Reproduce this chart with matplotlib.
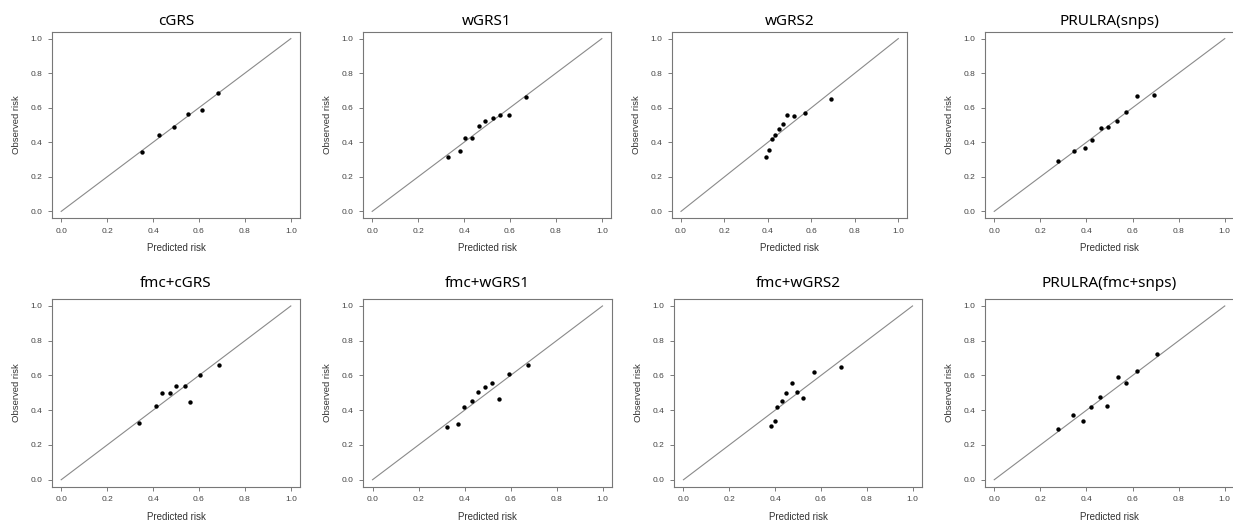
import numpy as np
import matplotlib
matplotlib.use("Agg")
import matplotlib.pyplot as plt

titles = ["cGRS", "wGRS1", "wGRS2", "PRULRA(snps)",
          "fmc+cGRS", "fmc+wGRS1", "fmc+wGRS2", "PRULRA(fmc+snps)"]

pred_cgrs = [0.352, 0.428, 0.491, 0.553, 0.614, 0.685]
obs_cgrs = [0.342, 0.445, 0.489, 0.565, 0.586, 0.683]

pred_wgrs1 = [0.332, 0.381, 0.406, 0.434, 0.463, 0.493, 0.524, 0.555, 0.597, 0.671]
obs_wgrs1 = [0.315, 0.352, 0.427, 0.427, 0.493, 0.524, 0.540, 0.559, 0.559, 0.660]

pred_wgrs2 = [0.393, 0.407, 0.419, 0.433, 0.450, 0.468, 0.488, 0.521, 0.570, 0.691]
obs_wgrs2 = [0.313, 0.354, 0.418, 0.441, 0.474, 0.507, 0.557, 0.553, 0.569, 0.648]

pred_prulra = [0.276, 0.345, 0.393, 0.423, 0.461, 0.494, 0.533, 0.571, 0.620, 0.695]
obs_prulra = [0.290, 0.350, 0.368, 0.412, 0.480, 0.491, 0.526, 0.573, 0.669, 0.675]

pred_fmc_cgrs = [0.337, 0.412, 0.438, 0.476, 0.501, 0.540, 0.563, 0.606, 0.686]
obs_fmc_cgrs = [0.325, 0.423, 0.500, 0.498, 0.540, 0.540, 0.446, 0.604, 0.663]

pred_fmc_wgrs1 = [0.323, 0.371, 0.398, 0.432, 0.459, 0.490, 0.520, 0.551, 0.593, 0.674]
obs_fmc_wgrs1 = [0.304, 0.321, 0.419, 0.452, 0.504, 0.535, 0.556, 0.462, 0.606, 0.658]

pred_fmc_wgrs2 = [0.383, 0.399, 0.410, 0.428, 0.448, 0.472, 0.496, 0.523, 0.569, 0.687]
obs_fmc_wgrs2 = [0.308, 0.337, 0.419, 0.452, 0.502, 0.554, 0.504, 0.473, 0.621, 0.646]

pred_fmc_prulra = [0.276, 0.340, 0.384, 0.419, 0.457, 0.491, 0.535, 0.572, 0.621, 0.707]
obs_fmc_prulra = [0.290, 0.375, 0.340, 0.417, 0.477, 0.427, 0.594, 0.554, 0.623, 0.721]

preds = [pred_cgrs, pred_wgrs1, pred_wgrs2, pred_prulra,
         pred_fmc_cgrs, pred_fmc_wgrs1, pred_fmc_wgrs2, pred_fmc_prulra]
obss = [obs_cgrs, obs_wgrs1, obs_wgrs2, obs_prulra,
        obs_fmc_cgrs, obs_fmc_wgrs1, obs_fmc_wgrs2, obs_fmc_prulra]

ticks = [0.0, 0.2, 0.4, 0.6, 0.8, 1.0]

W, H = 1233, 529
fig = plt.figure(figsize=(W / 100, H / 100), dpi=100)

# axes boxes in pixels: left, right, top, bottom
boxes = [(52, 300, 31.7, 218.3), (363, 611, 31.7, 218.3),
         (672.3, 907, 31.7, 218.3), (985, 1234, 31.7, 218.3),
         (52, 300, 299, 486.7), (363.3, 611.7, 299, 486.7),
         (674.3, 921.7, 299, 486.7), (985, 1234, 299, 486.7)]

for i in range(8):
    l, r, t, b = boxes[i]
    ax = fig.add_axes([l / W, 1 - b / H, (r - l) / W, (b - t) / H])
    ax.plot([0, 1], [0, 1], color="#8a8a8a", lw=0.8)
    ax.scatter(preds[i], obss[i], s=10, color="black", zorder=3, linewidths=0)
    ax.set_xlim(-0.04, 1.04)
    ax.set_ylim(-0.04, 1.04)
    ax.set_xticks(ticks)
    ax.set_yticks(ticks)
    ax.set_xticklabels(["%.1f" % v for v in ticks], fontsize=6,
                       color="#444444", family="Liberation Sans")
    ax.set_yticklabels(["%.1f" % v for v in ticks], fontsize=6,
                       color="#444444", family="Liberation Sans")
    ax.tick_params(length=3, width=0.6, color="#666666", pad=4)
    for s in ax.spines.values():
        s.set_color("#777777")
        s.set_linewidth(0.8)
    ax.set_xlabel("Predicted risk", fontsize=7, color="#333333",
                  family="Liberation Sans", labelpad=6)
    ax.set_ylabel("Observed risk", fontsize=6.8, color="#333333",
                  family="Liberation Sans", labelpad=7)
    pad = 5 if i < 4 else 8.5
    ax.set_title(titles[i], fontsize=11, family="Noto Sans", pad=pad)

fig.savefig("out.png", dpi=100)
